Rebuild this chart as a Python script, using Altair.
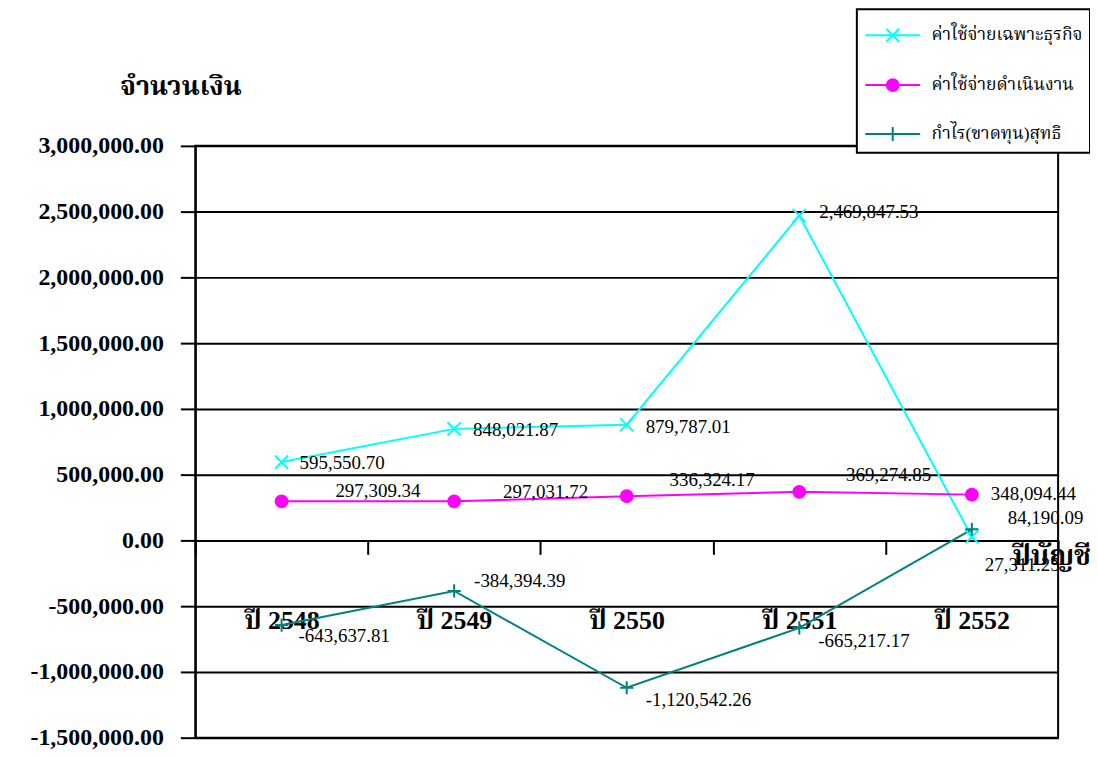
import altair as alt
import pandas as pd

# ---------------- data ----------------
years = ["ปี 2548", "ปี 2549", "ปี 2550", "ปี 2551", "ปี 2552"]
series_names = ["ค่าใช้จ่ายเฉพาะธุรกิจ", "ค่าใช้จ่ายดำเนินงาน", "กำไร(ขาดทุน)สุทธิ"]
specific_expenses = [595550.70, 848021.87, 879787.01, 2469847.53, 27311.25]
operating_expenses = [297309.34, 297031.72, 336324.17, 369274.85, 348094.44]
net_profit = [-643637.81, -384394.39, -1120542.26, -665217.17, 84190.09]
y_ticks = [-1500000, -1000000, -500000, 0, 500000, 1000000, 1500000,
           2000000, 2500000, 3000000]

series_values = [specific_expenses, operating_expenses, net_profit]

rows = []
for s, vals in zip(series_names, series_values):
    for yr, v in zip(years, vals):
        rows.append({"series": s, "year": yr, "value": v, "label": f"{v:,.2f}"})
df = pd.DataFrame(rows)

# ---------------- styles ----------------
colors = ["#00FFFF", "#FF00FF", "#008080"]
SERIF = "Liberation Serif, Times New Roman, Noto Serif Thai, Noto Sans Thai, serif"

marker_paths = [
    "M-1,-1L1,1M-1,1L1,-1",
    "M-0.9,0A0.9,0.9,0,1,0,0.9,0A0.9,0.9,0,1,0,-0.9,0Z",
    "M-1,0H1M0,-1V1",
]
legend_paths = [
    "M-1.53,0H1.53M-0.36,-0.36L0.36,0.36M-0.36,0.36L0.36,-0.36",
    "M-1.53,0H1.53M-0.33,0A0.33,0.33,0,1,0,0.33,0A0.33,0.33,0,1,0,-0.33,0Z",
    "M-1.53,0H1.53M0,-0.39V0.39",
]

# pixel offsets of each data label from its point (series index, year index)
label_offsets = {
    (0, 0): (18, 1), (0, 1): (19, 1), (0, 2): (19, 2), (0, 3): (20, -4), (0, 4): (13, 28),
    (1, 0): (54, -10), (1, 1): (49, -9), (1, 2): (43, -16), (1, 3): (47, -17), (1, 4): (19, -1),
    (2, 0): (17, 11), (2, 1): (20, -10), (2, 2): (19, 12), (2, 3): (19, 13), (2, 4): (36, -11),
}

x_scale = alt.Scale(type="band", domain=years, paddingInner=0, paddingOuter=0)
y_scale = alt.Scale(domain=[-1500000, 3000000], nice=False, zero=False)
color_scale = alt.Scale(domain=series_names, range=colors)

x_axis = alt.Axis(
    orient="bottom", offset=-198, domain=False, grid=False,
    ticks=True, tickBand="extent", tickSize=14, tickWidth=2, tickColor="black",
    labelAngle=0, labelFont=SERIF, labelFontSize=26, labelFontWeight="bold",
    labelColor="black", labelBaseline="alphabetic", labelPadding=74,
    title="ปีบัญชี", titleX=859, titleY=24, titleAlign="center",
    titleBaseline="alphabetic", titleFont=SERIF, titleFontSize=28,
    titleFontWeight="bold", titleColor="black",
)
y_axis = alt.Axis(
    values=y_ticks,
    labelExpr="replace(format(datum.value, ',.2f'), '\u2212', '-')",
    grid=True, gridColor="black", gridWidth=2, gridOpacity=1,
    domain=True, domainColor="black", domainWidth=2,
    ticks=True, tickSize=15, tickWidth=2, tickColor="black",
    labelFont=SERIF, labelFontSize=24, labelFontWeight="bold", labelColor="black",
    labelPadding=17,
    title="จำนวนเงิน", titleAngle=0, titleX=-15, titleY=-52, titleAlign="center",
    titleBaseline="alphabetic", titleFont=SERIF, titleFontSize=27,
    titleFontWeight="bold", titleColor="black",
)

X = alt.X("year:N", scale=x_scale, axis=x_axis, bandPosition=0.5, sort=years)
Y = alt.Y("value:Q", scale=y_scale, axis=y_axis)

base = alt.Chart(df)

lines = base.mark_line(strokeWidth=2).encode(
    x=X, y=Y,
    color=alt.Color("series:N", scale=color_scale, legend=None),
    detail="series:N",
)

points = base.mark_point(filled=True, size=175, strokeWidth=2, opacity=1).encode(
    x=X, y=Y,
    shape=alt.Shape("series:N", scale=alt.Scale(domain=series_names, range=marker_paths), legend=None),
    fill=alt.Fill("series:N", scale=color_scale, legend=None),
    stroke=alt.Stroke("series:N", scale=color_scale, legend=None),
)

leg = alt.Legend(
    title=None, orient="none", legendX=664, legendY=-137,
    fillColor="white", strokeColor="black", padding=7,
    symbolSize=1296, symbolStrokeWidth=2, symbolOffset=10, rowPadding=20,
    labelOffset=20, labelFont=SERIF, labelFontSize=17.5, labelColor="black",
    labelLimit=400,
)
legend_layer = base.transform_filter("false").mark_point(
    filled=True, size=175, strokeWidth=2, opacity=1
).encode(
    x=X, y=Y,
    shape=alt.Shape("series:N", scale=alt.Scale(domain=series_names, range=legend_paths), legend=leg),
    fill=alt.Fill("series:N", scale=alt.Scale(domain=series_names, range=colors), legend=leg),
    stroke=alt.Stroke("series:N", scale=alt.Scale(domain=series_names, range=colors), legend=leg),
)

text_layers = []
for (si, yi), (dx, dy) in label_offsets.items():
    t = base.transform_filter(
        (alt.datum.series == series_names[si]) & (alt.datum.year == years[yi])
    ).mark_text(
        align="left", baseline="middle", dx=dx, dy=dy,
        font=SERIF, fontSize=19, color="black",
    ).encode(x=X, y=Y, text="label:N")
    text_layers.append(t)

chart = alt.layer(lines, points, legend_layer, *text_layers).resolve_scale(
    shape="independent", fill="independent", stroke="independent"
).properties(
    width=866, height=594,
    autosize=alt.AutoSizeParams(type="none"),
    padding={"left": 188, "top": 137, "right": 32, "bottom": 12},
    background="white",
).configure_view(stroke="black", strokeWidth=2).configure_legend(strokeWidth=2)

chart.save("out.html", embed_options={"renderer": "svg", "actions": False})
